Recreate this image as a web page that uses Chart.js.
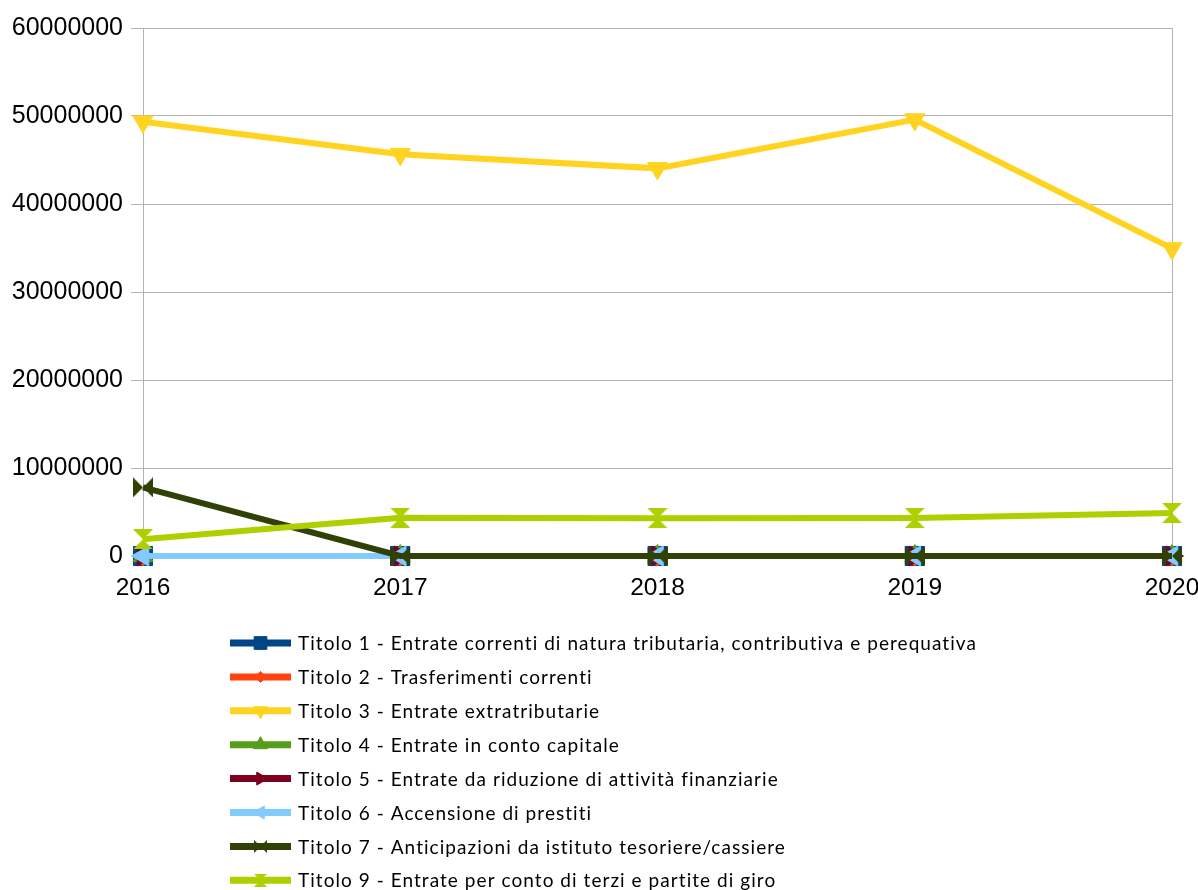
<!DOCTYPE html>
<html>
<head>
<meta charset="utf-8">
<script src="https://cdn.jsdelivr.net/npm/chart.js@4/dist/chart.umd.min.js"></script>
<style>
  html, body { margin: 0; padding: 0; background: #fff; }
  #grafico { display: block; }
</style>
</head>
<body>
<canvas id="grafico" width="1198" height="890"></canvas>
<script>
// dati
const anni = ["2016", "2017", "2018", "2019", "2020"];
const yTicks = [0, 10000000, 20000000, 30000000, 40000000, 50000000, 60000000];

const titolo1 = [0, 0, 0, 0, 0];
const titolo2 = [0, 0, 0, 0, 0];
const titolo3 = [49350000, 45650000, 44050000, 49600000, 34950000];
const titolo4 = [0, 0, 0, 0, 0];
const titolo5 = [0, 0, 0, 0, 0];
const titolo6 = [0, 0, 0, 0, 0];
const titolo7 = [7800000, 0, 0, 0, 0];
const titolo9 = [1900000, 4350000, 4300000, 4330000, 4900000];

const nomi = [
    "Titolo 1 - Entrate correnti di natura tributaria, contributiva e perequativa",
    "Titolo 2 - Trasferimenti correnti",
    "Titolo 3 - Entrate extratributarie",
    "Titolo 4 - Entrate in conto capitale",
    "Titolo 5 - Entrate da riduzione di attività finanziarie",
    "Titolo 6 - Accensione di prestiti",
    "Titolo 7 - Anticipazioni da istituto tesoriere/cassiere",
    "Titolo 9 - Entrate per conto di terzi e partite di giro"
];

// disegna un "papillon" (orizzontale o verticale) su un canvas
function papillon(colore, orizzontale, lato) {
    const c = document.createElement("canvas");
    c.width = lato;
    c.height = lato;
    const g = c.getContext("2d");
    g.fillStyle = colore;
    g.beginPath();
    if (orizzontale) {
        g.moveTo(0, 0); g.lineTo(lato / 2, lato / 2); g.lineTo(0, lato); g.closePath();
        g.moveTo(lato, 0); g.lineTo(lato / 2, lato / 2); g.lineTo(lato, lato); g.closePath();
    } else {
        g.moveTo(0, 0); g.lineTo(lato, 0); g.lineTo(lato / 2, lato / 2); g.closePath();
        g.moveTo(0, lato); g.lineTo(lato, lato); g.lineTo(lato / 2, lato / 2); g.closePath();
    }
    g.fill();
    return c;
}

const serie = [
    { dati: titolo1, colore: "#004586", stile: "rect", rot: 0, r: 13.5, rl: 9 },
    { dati: titolo2, colore: "#ff420e", stile: "rectRot", rot: 0, r: 10, rl: 5.5 },
    { dati: titolo3, colore: "#ffd320", stile: "triangle", rot: 180, r: 11.5, rl: 8 },
    { dati: titolo4, colore: "#579d1c", stile: "triangle", rot: 0, r: 11.5, rl: 8 },
    { dati: titolo5, colore: "#7e0021", stile: "triangle", rot: 90, r: 11.5, rl: 7.5 },
    { dati: titolo6, colore: "#83caff", stile: "triangle", rot: 270, r: 11.5, rl: 7.5 },
    { dati: titolo7, colore: "#314004", stile: papillon("#314004", true, 20), rot: 0, r: 10, leg: papillon("#314004", true, 13) },
    { dati: titolo9, colore: "#aecf00", stile: papillon("#aecf00", false, 20), rot: 0, r: 10, leg: papillon("#aecf00", false, 13) }
];

// legenda disegnata a mano sotto il grafico (una voce per riga)
const legendaVerticale = {
    id: "legendaVerticale",
    afterDraw(chart) {
        const ctx = chart.ctx;
        ctx.save();
        serie.forEach((s, i) => {
            const y = 643 + i * 33.9;
            ctx.strokeStyle = s.colore;
            ctx.lineWidth = 7;
            ctx.beginPath();
            ctx.moveTo(230, y);
            ctx.lineTo(291, y);
            ctx.stroke();
            if (s.leg) {
                ctx.drawImage(s.leg, 260.5 - s.leg.width / 2, y - s.leg.height / 2);
            } else {
                ctx.fillStyle = s.colore;
                ctx.lineWidth = 1;
                Chart.helpers.drawPoint(ctx, { pointStyle: s.stile, rotation: s.rot, radius: s.rl, borderWidth: 1 }, 260.5, y);
            }
            ctx.fillStyle = "#000";
            ctx.font = "19px Lato";
            ctx.letterSpacing = "1.05px";
            ctx.textBaseline = "middle";
            ctx.fillText(nomi[i], 298, y + 1);
        });
        ctx.restore();
    }
};

const ctx = document.getElementById("grafico").getContext("2d");
const grafico = new Chart(ctx, {
    type: "line",
    data: {
        labels: anni,
        datasets: serie.map((s, i) => ({
            label: nomi[i],
            data: s.dati,
            borderColor: s.colore,
            backgroundColor: s.colore,
            borderWidth: 6,
            tension: 0,
            clip: false,
            pointStyle: s.stile,
            pointRotation: s.rot,
            pointRadius: s.r,
            pointHoverRadius: s.r,
            pointBorderWidth: 1,
            pointBackgroundColor: s.colore,
            pointBorderColor: s.colore,
            order: -i
        }))
    },
    options: {
        responsive: false,
        animation: false,
        devicePixelRatio: 1,
        layout: { padding: { top: 28, right: 26, bottom: 284, left: 0 } },
        plugins: { legend: { display: false }, tooltip: { enabled: false } },
        scales: {
            x: {
                afterFit: (scala) => {
                    scala.height = 50;
                    scala.paddingLeft = 0;
                    scala.paddingRight = 0;
                },
                grid: {
                    color: (c) => (c.index === 0 || c.index === anni.length - 1) ? "#b3b3b3" : "rgba(0,0,0,0)",
                    tickColor: "#b3b3b3",
                    tickLength: 5
                },
                border: { display: false },
                ticks: { color: "#000", font: { family: "Liberation Sans", size: 24.5 }, padding: 13 }
            },
            y: {
                min: 0,
                max: 60000000,
                afterFit: (scala) => { scala.width = 143; },
                afterBuildTicks: (scala) => { scala.ticks = yTicks.map(v => ({ value: v })); },
                grid: { color: "#b3b3b3", tickLength: 12 },
                border: { display: true, color: "#b3b3b3" },
                ticks: {
                    color: "#000",
                    font: { family: "Liberation Sans", size: 25 },
                    padding: 8,
                    callback: (v) => String(v)
                }
            }
        }
    },
    plugins: [legendaVerticale]
});
</script>
</body>
</html>
